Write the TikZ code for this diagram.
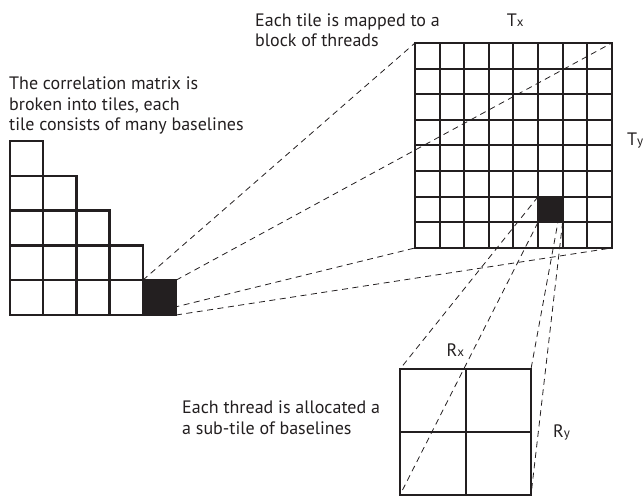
\documentclass[tikz,border=0pt]{standalone}
\usepackage{fontspec}
\setmainfont{PT Sans}
\usepackage{xcolor}
\usetikzlibrary{positioning, fit}

\definecolor{ink}{RGB}{35,31,32}
\newcommand{\subsz}[1]{{\fontsize{13}{13}\selectfont #1}}

\begin{document}
\begin{tikzpicture}[
  x=1pt, y=-1pt,
  tcell/.style={rectangle, draw=ink, line width=2.4pt, minimum width=33.2pt, minimum height=34.8pt, inner sep=0pt, outer sep=0pt},
  bcell/.style={rectangle, draw=ink, line width=2pt, minimum width=24.6pt, minimum height=25.6pt, inner sep=0pt, outer sep=0pt},
  rcell/.style={rectangle, draw=ink, line width=2pt, minimum width=65.5pt, minimum height=63pt, inner sep=0pt, outer sep=0pt},
  gridbox/.style={inner sep=0pt, outer sep=0pt},
  dashln/.style={ink, line width=0.8pt, dash pattern=on 6pt off 4.5pt},
  note/.style={font=\fontsize{18}{20.5}\selectfont, text=ink, align=left, inner sep=0pt},
  dimlabel/.style={font=\fontsize{18}{20}\selectfont, text=ink, inner sep=0pt}
]
\useasboundingbox (0,0) rectangle (644,497);

% correlation matrix, cut into tiles
\foreach \r in {0,...,4} {
  \pgfmathtruncatemacro\lastc{4-\r}
  \foreach \c in {0,...,\lastc}
    \node[tcell] (t\c\r) at ({26.6+33.2*\c}, {297.6-34.8*\r}) {};
}

% thread block
\foreach \i in {0,...,7}
  \foreach \j in {0,...,7}
    \node[bcell] (b\i\j) at ({427.3+24.6*\i}, {55.8+25.625*\j}) {};
\node[gridbox, fit=(b00)(b77)] (tblock) {};

% sub-tile of one thread
\foreach \i in {0,1}
  \foreach \j in {0,1}
    \node[rcell] (r\i\j) at ({432.75+65.5*\i}, {400.5+63*\j}) {};
\node[gridbox, fit=(r00)(r11)] (subtile) {};

\draw[dashln] (t40.north west) -- (tblock.north west);
\draw[dashln] (t40.north east) -- (tblock.north east);
\draw[dashln] (t40.south west) -- (tblock.south west);
\draw[dashln] (t40.south east) -- (tblock.south east);
\node[tcell, fill=ink] (tsel) at (t40) {};

\draw[dashln] (b56.north west) -- (subtile.north west);
\draw[dashln] (b56.north east) -- (subtile.north east);
\draw[dashln] (b56.south west) -- (subtile.south west);
\draw[dashln] (b56.south east) -- (subtile.south east);
\node[bcell, fill=ink] (bsel) at (b56) {};

% labels (base = last line)
\node[note, anchor=base west] (matrixnote) at (9,131) {The correlation matrix is\\broken into tiles, each\\tile consists of many baselines};
\node[note, anchor=base west] (blocknote) at (255,47) {Each tile is mapped to a\\block of threads};
\node[note, anchor=base west] (threadnote) at (182,434) {Each thread is allocated a\\a sub-tile of baselines};

\node[dimlabel, above=16pt of tblock.north, xshift=1.8pt] (tx) {T\subsz{x}};
\node[dimlabel, right=15pt of tblock.east, yshift=4.5pt] (ty) {T\subsz{y}};
\node[dimlabel, above=12pt of subtile.north, xshift=-10.2pt] (rx) {R\subsz{x}};
\node[dimlabel, right=22pt of subtile.east] (ry) {R\subsz{y}};
\end{tikzpicture}
\end{document}
